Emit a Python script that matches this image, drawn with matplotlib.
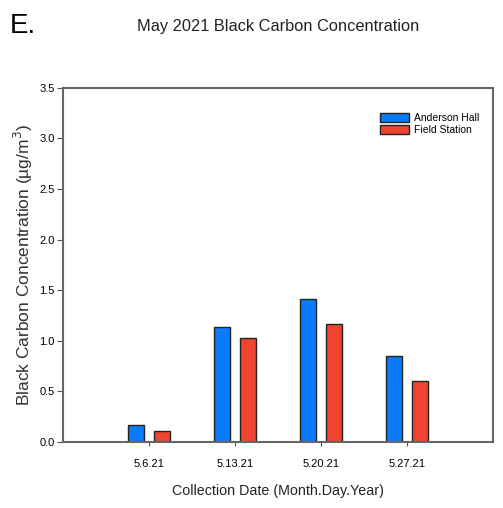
import numpy as np
import matplotlib
matplotlib.use("Agg")
import matplotlib.pyplot as plt

plt.rcParams["font.family"] = ["Liberation Sans", "DejaVu Sans"]

dates = ["5.6.21", "5.13.21", "5.20.21", "5.27.21"]
anderson_hall = [0.17, 1.14, 1.41, 0.85]
field_station = [0.11, 1.03, 1.17, 0.60]

fig = plt.figure(figsize=(5.03, 5.08), dpi=100)
ax = fig.add_axes([0.125, 0.130, 0.855, 0.697])

x = np.arange(1, len(dates) + 1)
width = 0.19
ax.bar(x - 0.15, anderson_hall, width, color="#0a7bfa", edgecolor="#222222",
       linewidth=1.0, label="Anderson Hall")
ax.bar(x + 0.15, field_station, width, color="#ee4430", edgecolor="#222222",
       linewidth=1.0, label="Field Station")

ax.set_xlim(0, 5)
ax.set_ylim(0, 3.5)
ax.set_xticks(x)
ax.set_xticklabels(dates, fontsize=8)
ax.set_yticks(np.arange(0, 3.51, 0.5))
ax.set_yticklabels([f"{v:.1f}" for v in np.arange(0, 3.51, 0.5)], fontsize=8)
ax.tick_params(axis="y", direction="out", length=4, color="#555555", pad=2)
ax.tick_params(axis="x", direction="out", length=3, color="#555555", pad=9)
for s in ax.spines.values():
    s.set_color("#666666")
    s.set_linewidth(1.5)

ax.set_xlabel("Collection Date (Month.Day.Year)", fontsize=10.3, labelpad=11,
              color="#222222")
ax.set_ylabel("Black Carbon Concentration (\u00b5g/m$^3$)", fontsize=12.5,
              color="#333333", labelpad=3)

ax.legend(loc="upper right", bbox_to_anchor=(0.99, 0.955), fontsize=7.5,
          frameon=False, handlelength=2.8, handleheight=0.9,
          labelspacing=0.2, handletextpad=0.5)

fig.text(0.02, 0.948, "E.", fontsize=20, va="center", ha="left")
fig.text(0.553, 0.948, "May 2021 Black Carbon Concentration", fontsize=11.8,
         va="center", ha="center", color="#222222")

fig.savefig("out.png", dpi=100)
